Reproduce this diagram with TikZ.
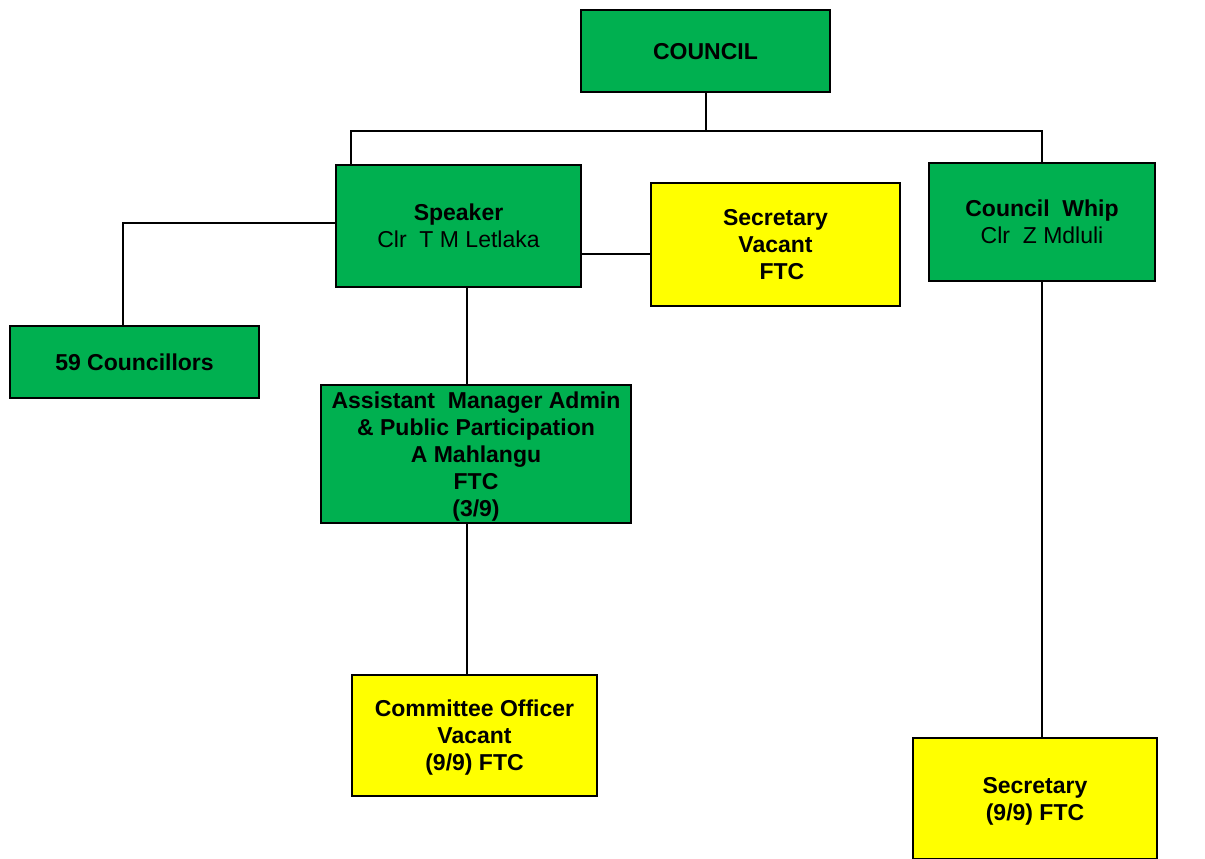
\documentclass[tikz,border=0pt]{standalone}
\usepackage{fontspec}
\setmainfont{Liberation Sans}
\usepackage{tikz}
\usetikzlibrary{positioning,calc}
\definecolor{boxgreen}{RGB}{0,176,80}
\definecolor{boxyellow}{RGB}{255,255,0}

\begin{document}
\begin{tikzpicture}[x=1pt, y=-1pt,
    box/.style={draw, line width=1.8pt, align=center, inner sep=0pt, font=\fontsize{23}{27}\selectfont\bfseries},
    greenbox/.style={box, fill=boxgreen},
    yellowbox/.style={box, fill=boxyellow},
    wire/.style={line width=2pt}]
    \useasboundingbox (0,0) rectangle (1205,859);

    % Top level
    \node[greenbox, minimum width=249, minimum height=82, text depth=-4pt] (council) at (705.5,51) {COUNCIL};

    % Speaker, secretary and whip
    \node[greenbox, minimum width=245, minimum height=122, text depth=-4pt] (speaker) at (458.5,226) {Speaker\\{\mdseries Clr\ \ T M Letlaka}};
    \node[yellowbox, minimum width=249, minimum height=123, text depth=-4pt] (secretary) at (775.5,244.5) {Secretary\\Vacant\\\ \ FTC};
    \node[greenbox, minimum width=226, minimum height=118, text depth=-4pt] (whip) at (1042,222) {Council\ \ Whip\\{\mdseries Clr\ \ Z Mdluli}};

    % Lower level
    \node[greenbox, minimum width=249, minimum height=72] (councillors) at (134.5,362) {59 Councillors};
    \node[greenbox, minimum width=310, minimum height=138, text depth=-1pt] (assistant) at (476,454) {Assistant\ \ Manager Admin\\\& Public Participation\\A Mahlangu\\FTC\\(3/9)};
    \node[yellowbox, minimum width=245, minimum height=121, text depth=-5pt] (committee) at (474.5,735.5) {Committee Officer\\Vacant\\(9/9) FTC};
    \node[yellowbox, minimum width=244, minimum height=121, text depth=-5pt] (whipsec) at (1035,798.5) {Secretary\\(9/9) FTC};

    % Connectors
    \coordinate (bus) at ($(council.south)+(0,38)$);
    \draw[wire] (council.south) -- (bus);
    \draw[wire] (bus) -| ([xshift=16pt]speaker.north west);
    \draw[wire] (bus) -| (whip.north);
    \draw[wire] ([yshift=3pt]speaker.west) -| ([xshift=-11.5pt]councillors.north);
    \coordinate (speakerright) at ([yshift=-28pt]speaker.east);
    \draw[wire] (speakerright) -- (speakerright -| secretary.west);
    \coordinate (speakerdown) at ([xshift=8.5pt]speaker.south);
    \draw[wire] (speakerdown) -- (speakerdown |- assistant.north);
    \draw[wire] (speakerdown |- assistant.south) -- (speakerdown |- committee.north);
    \draw[wire] (whip.south) -- (whip.south |- whipsec.north);

\end{tikzpicture}
\end{document}
